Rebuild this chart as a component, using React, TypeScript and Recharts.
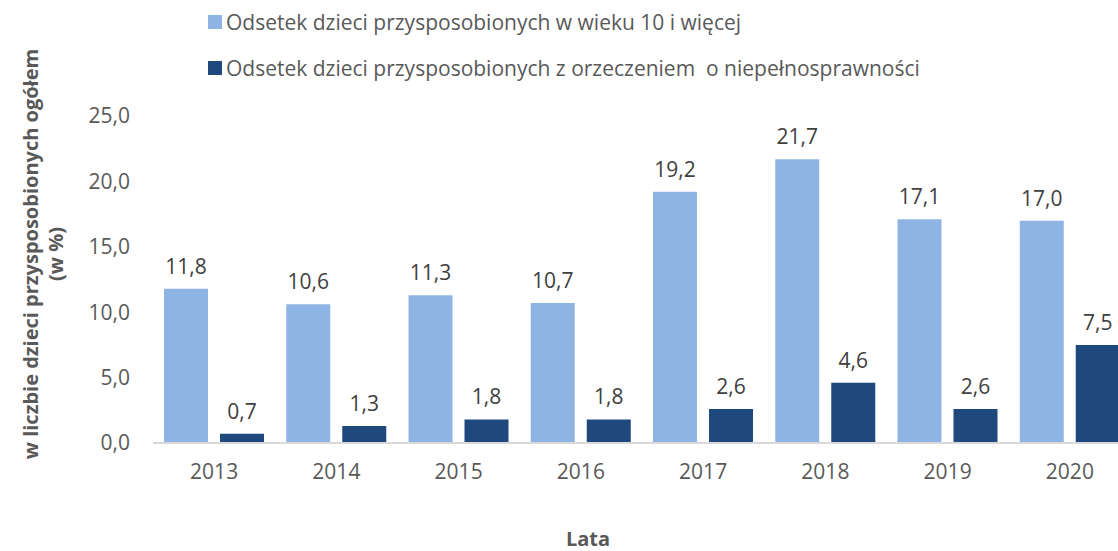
import React from "react";
import { BarChart, Bar, XAxis, YAxis, LabelList } from "recharts";

const YEARS = ["2013", "2014", "2015", "2016", "2017", "2018", "2019", "2020"];
const AGE_10_PLUS = [11.8, 10.6, 11.3, 10.7, 19.2, 21.7, 17.1, 17.0];
const WITH_DISABILITY = [0.7, 1.3, 1.8, 1.8, 2.6, 4.6, 2.6, 7.5];
const Y_TICKS = [0, 5, 10, 15, 20, 25];

const SERIES = [
  { key: "age", name: "Odsetek dzieci przysposobionych w wieku 10 i więcej", color: "#8EB4E3" },
  { key: "dis", name: "Odsetek dzieci przysposobionych z orzeczeniem  o niepełnosprawności", color: "#1F497D" },
];

const FONT = "'Open Sans', 'Noto Sans', sans-serif";
const TEXT = "#595959";

const data = YEARS.map((year, i) => ({
  year,
  age: AGE_10_PLUS[i],
  dis: WITH_DISABILITY[i],
}));

const fmt = (v: number) => v.toFixed(1).replace(".", ",");

function YTitle() {
  return (
    <g fontFamily={FONT} fontWeight={700} fontSize={20} fill={TEXT}>
      <text x={30} y={254} transform="rotate(-90 30 254)" textAnchor="middle" dominantBaseline="central">
        w liczbie dzieci przysposobionych ogółem
      </text>
      <text x={55} y={254} transform="rotate(-90 55 254)" textAnchor="middle" dominantBaseline="central">
        (w %)
      </text>
    </g>
  );
}

function XTitle() {
  return (
    <text x={588} y={538} textAnchor="middle" dominantBaseline="central" fontFamily={FONT} fontWeight={700} fontSize={20} fill={TEXT}>
      Lata
    </text>
  );
}

export default function App() {
  return (
    <div
      style={{
        position: "absolute",
        left: 0,
        top: 0,
        width: 1118,
        height: 551,
        overflow: "hidden",
        background: "#fff",
        fontFamily: FONT,
      }}
    >
      <div style={{ position: "absolute", left: 208, top: 0, zIndex: 2 }}>
        {SERIES.map((s, i) => (
          <div
            key={s.key}
            style={{
              position: "absolute",
              top: 22 + i * 46 - 14,
              left: 0,
              display: "flex",
              alignItems: "center",
              whiteSpace: "pre",
              height: 28,
            }}
          >
            <span style={{ width: 14, height: 14, background: s.color, display: "inline-block", marginRight: 4 }} />
            <span style={{ fontSize: 21, color: TEXT }}>{s.name}</span>
          </div>
        ))}
      </div>
      <BarChart
        width={1170}
        height={551}
        data={data}
        margin={{ top: 116, right: 39, bottom: 0, left: 0 }}
        barGap={12}
        barSize={44}
      >
        <XAxis
          dataKey="year"
          height={108}
          tickLine={false}
          tickSize={0}
          tickMargin={21}
          axisLine={{ stroke: "#D9D9D9", strokeWidth: 2 }}
          tick={{ fill: TEXT, fontSize: 21, fontFamily: FONT }}
          label={{ content: () => <XTitle /> }}
        />
        <YAxis
          width={153}
          domain={[0, 25]}
          ticks={Y_TICKS}
          tickFormatter={fmt}
          axisLine={false}
          tickLine={false}
          tickSize={0}
          tickMargin={23}
          tick={{ fill: TEXT, fontSize: 21, fontFamily: FONT }}
          label={{ content: () => <YTitle /> }}
        />
        {SERIES.map((s) => (
          <Bar key={s.key} dataKey={s.key} name={s.name} fill={s.color} isAnimationActive={false}>
            <LabelList
              dataKey={s.key}
              position="top"
              offset={15}
              formatter={(v: number) => fmt(v)}
              fill="#404040"
              fontSize={21}
              fontFamily={FONT}
            />
          </Bar>
        ))}
      </BarChart>
    </div>
  );
}
